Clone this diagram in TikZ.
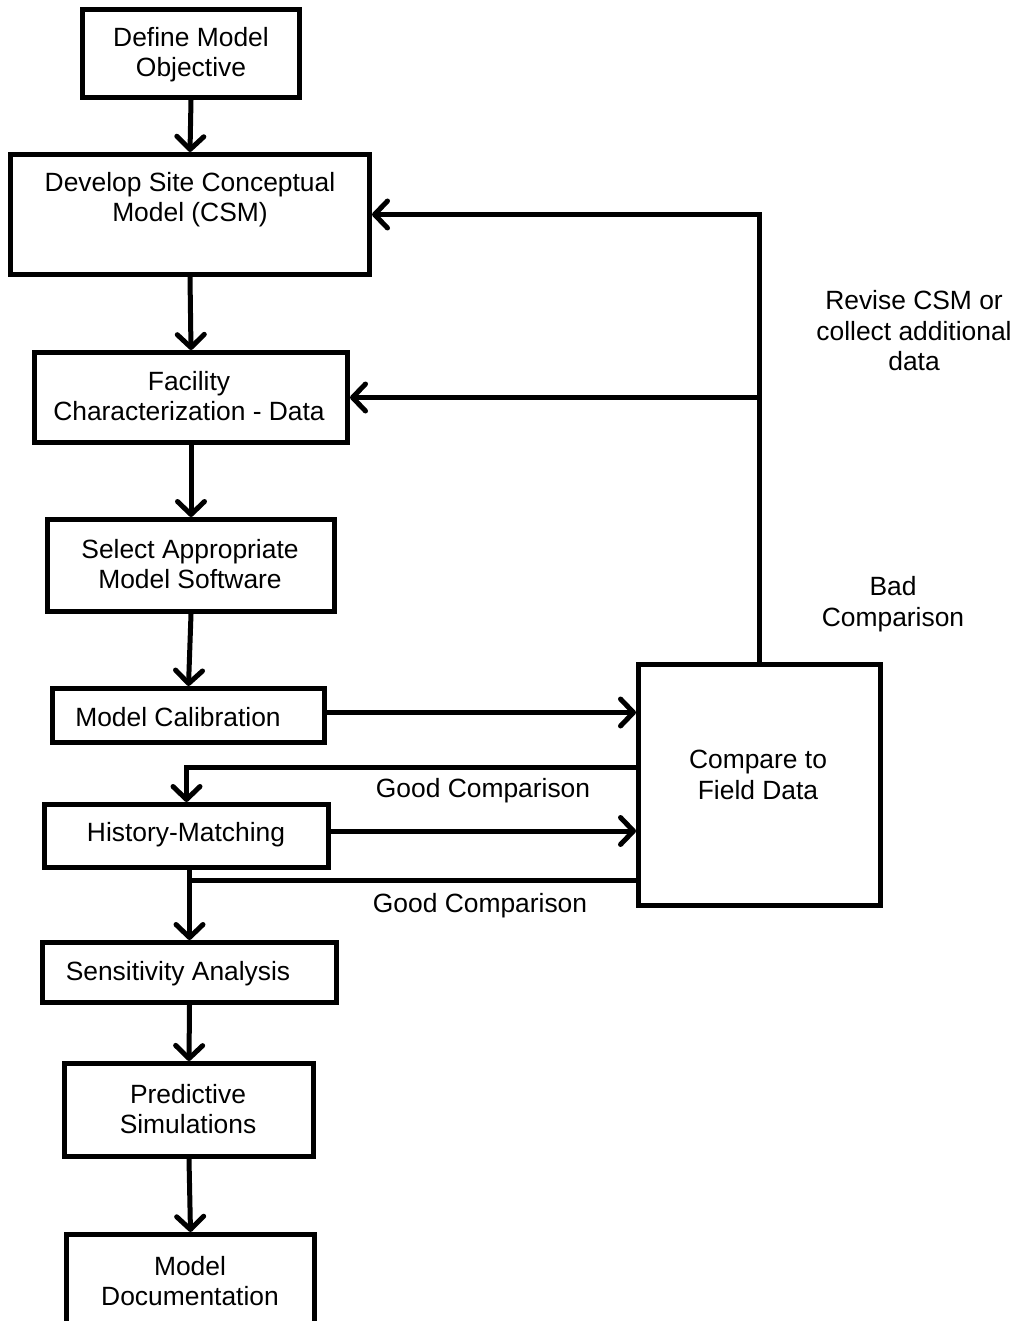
\documentclass[tikz,border=0pt]{standalone}
\usepackage{fontspec}
\setmainfont{Liberation Sans}
\usetikzlibrary{arrows.meta}
\begin{document}
\begin{tikzpicture}[x=1pt,y=-1pt,
  box/.style={draw, line width=5pt, inner sep=0pt},
  txt/.style={align=center, inner sep=0pt, font=\fontsize{26.4}{30.5}\selectfont},
  conn/.style={line width=5pt},
  arr/.style={conn, -{Straight Barb[length=13pt,width=27pt,round]}}]
\useasboundingbox (0,0) rectangle (1016,1321);
\clip (0,0) rectangle (1016,1321);
% boxes
\node[box, minimum width=217pt, minimum height=88pt] (obj) at (191,53.5) {};
\node[box, minimum width=359pt, minimum height=120pt] (dev) at (190,214.5) {};
\node[box, minimum width=313pt, minimum height=90pt] (fac) at (191,397.5) {};
\node[box, minimum width=287pt, minimum height=92pt] (sel) at (191,565.5) {};
\node[box, minimum width=272pt, minimum height=54pt] (mc) at (188.5,715.5) {};
\node[box, minimum width=284pt, minimum height=63pt] (hm) at (186.5,836) {};
\node[box, minimum width=294pt, minimum height=60pt] (sa) at (189.5,972.5) {};
\node[box, minimum width=249pt, minimum height=93pt] (ps) at (189,1110) {};
\node[box, minimum width=248pt, minimum height=125pt] (md) at (190.5,1297) {};
\node[box, minimum width=242pt, minimum height=241pt] (cmp) at (759.5,785) {};
% texts
\node[txt] (tobj) at (191,54.5) {Define Model\\Objective};
\node[txt] (tdev) at (190,199.5) {Develop Site Conceptual\\Model (CSM)};
\node[txt] (tfac) at (189,396) {Facility\\Characterization - Data};
\node[txt] (tsel) at (190,564) {Select Appropriate\\Model Software};
\node[txt] (tmc) at (178,717) {Model Calibration};
\node[txt] (thm) at (186,835) {History-Matching};
\node[txt] (tsa) at (178,974) {Sensitivity Analysis};
\node[txt] (tps) at (188,1109) {Predictive\\Simulations};
\node[txt] (tmd) at (190,1281) {Model\\Documentation};
\node[txt] (tcmp) at (758,775) {Compare to\\Field Data};
\node[txt] (lg1) at (483,791) {Good Comparison};
\node[txt] (lg2) at (480,906) {Good Comparison};
\node[txt] (lrev) at (914,331) {Revise CSM or\\collect additional\\data};
\node[txt] (lbad) at (893,604) {Bad\\Comparison};
% main chain
\draw[arr] (obj.south) -- (dev.north);
\draw[arr] (dev.south) -- (fac.north);
\draw[arr] (fac.south) -- (sel.north);
\draw[arr] (sel.south) -- (mc.north);
\draw[arr] (hm.south -| sa.north) -- (sa.north);
\draw[arr] (sa.south) -- (ps.north);
\draw[arr] (ps.south) -- (md.north);
% to compare
\coordinate (mcr) at ([yshift=3pt]mc.east);
\draw[arr] (mcr) -- (mcr -| cmp.west);
\coordinate (hmr) at ([yshift=5pt]hm.east);
\draw[arr] (hmr) -- (hmr -| cmp.west);
% good comparisons
\coordinate (g1) at ([yshift=18pt]cmp.west);
\draw[arr] (g1) -| (hm.north);
\coordinate (g2) at ([yshift=-95pt]cmp.west);
\draw[conn] (g2) -- (g2 -| sa.north);
% bad comparison feedback
\draw[arr] (cmp.north) |- (dev.east);
\draw[arr] (cmp.north |- fac.east) -- (fac.east);
\end{tikzpicture}
\end{document}
